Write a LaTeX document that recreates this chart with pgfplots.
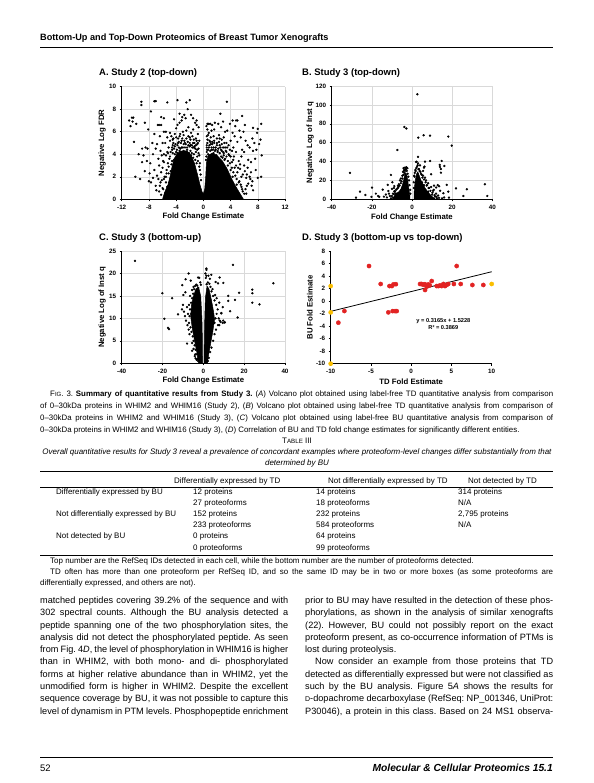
\documentclass[border=0pt]{standalone}
\usepackage{fontspec}
\setmainfont{Liberation Sans}
\usepackage{pgfplots}
\pgfplotsset{compat=1.18}
\definecolor{gridc}{RGB}{217,217,217}
\definecolor{dred}{RGB}{226,35,35}
\definecolor{dyel}{RGB}{250,190,0}
\newcommand{\fsz}[2]{\fontsize{#1}{#2}\selectfont}
\frenchspacing
\pgfplotsset{
  base/.style={scale only axis, anchor=south west, axis x line=bottom, axis y line=left,
    axis line style={black,line width=0.6bp,-}, tick style={black,line width=0.5bp},
    tick align=outside, major tick length=2bp,
    tick label style={font=\fsz{6.3}{7}\bfseries},
    /pgf/number format/assume math mode=true,
    label style={font=\fsz{7.8}{9}\bfseries},
    xlabel style={at={(axis description cs:0.5,-0.157)},anchor=center}},
  vol/.style={base, grid=major, major grid style={gridc,line width=0.5bp}},
  dots/.style={only marks, mark=*, mark size=0.95bp, black},
  core/.style={fill=black,draw=black,line width=0.5bp},
}
\begin{document}
\begin{tikzpicture}
\path[use as bounding box, fill=white] (0,0) rectangle (594bp,783bp);
\begin{scope}[x=1bp,y=-1bp,yshift=783bp]
% header
\node[anchor=base west,inner sep=0,font=\fsz{9.2}{11}\bfseries] at (40,41) {Bottom-Up and Top-Down Proteomics of Breast Tumor Xenografts};
\draw[line width=0.9bp] (40,47) -- (553,47);
% plot titles
\node[anchor=west,inner sep=0,font=\fsz{9.5}{11}\bfseries] at (99,73) {A. Study 2 (top-down)};
\node[anchor=west,inner sep=0,font=\fsz{9.5}{11}\bfseries] at (302,73) {B. Study 3 (top-down)};
\node[anchor=west,inner sep=0,font=\fsz{9.5}{11}\bfseries] at (99,238) {C. Study 3 (bottom-up)};
\node[anchor=west,inner sep=0,font=\fsz{9.5}{11}\bfseries] at (302,238) {D. Study 3 (bottom-up vs top-down)};
% caption
\begin{scope}[every node/.style={anchor=base west,inner sep=0,font=\fsz{7.9}{9}}]
\node at (50,397) {\hbox to 503bp{F{\fsz{6.1}{7}IG}. 3. \textbf{Summary of quantitative results from Study 3.} (\textit{A}) Volcano plot obtained using label-free TD quantitative analysis from comparison}};
\node at (40,409) {\hbox to 513bp{of 0\textendash30kDa proteins in WHIM2 and WHIM16 (Study 2), (\textit{B}) Volcano plot obtained using label-free TD quantitative analysis from comparison of}};
\node at (40,421) {\hbox to 513bp{0\textendash30kDa proteins in WHIM2 and WHIM16 (Study 3), (\textit{C}) Volcano plot obtained using label-free BU quantitative analysis from comparison of}};
\node at (40,433) {0\textendash30kDa proteins in WHIM2 and WHIM16 (Study 3), (\textit{D}) Correlation of BU and TD fold change estimates for significantly different entities.};
\end{scope}
% table
\node[anchor=base,inner sep=0,font=\fsz{8}{9}] at (297,443.5) {T{\fsz{6.2}{7}ABLE} III};
\node[anchor=base,inner sep=0,font=\fsz{8}{9}\itshape] at (297,455) {Overall quantitative results for Study 3 reveal a prevalence of concordant examples where proteoform-level changes differ substantially from that};
\node[anchor=base,inner sep=0,font=\fsz{8}{9}\itshape] at (297,466) {determined by BU};
\draw[line width=0.8bp] (40,471) -- (553,471);
\draw[line width=0.4bp] (40,487) -- (553,487);
\draw[line width=0.8bp] (40,555.5) -- (553,555.5);
\begin{scope}[every node/.style={anchor=base west,inner sep=0,font=\fsz{8}{9}}]
\node at (174,483.5) {Differentially expressed by TD};
\node at (328,483.5) {Not differentially expressed by TD};
\node at (468,483.5) {Not detected by TD};
\node at (56,494.2) {Differentially expressed by BU};
\node at (193,494.2) {12 proteins};
\node at (316,494.2) {14 proteins};
\node at (458,494.2) {314 proteins};
\node at (193,505.4) {27 proteoforms};
\node at (316,505.4) {18 proteoforms};
\node at (458,505.4) {N/A};
\node at (56,516.6) {Not differentially expressed by BU};
\node at (193,516.6) {152 proteins};
\node at (316,516.6) {232 proteins};
\node at (458,516.6) {2,795 proteins};
\node at (193,527.8) {233 proteoforms};
\node at (316,527.8) {584 proteoforms};
\node at (458,527.8) {N/A};
\node at (56,539) {Not detected by BU};
\node at (193,539) {0 proteins};
\node at (316,539) {64 proteins};
\node at (193,550.2) {0 proteoforms};
\node at (316,550.2) {99 proteoforms};
\node at (50,564) {Top number are the RefSeq IDs detected in each cell, while the bottom number are the number of proteoforms detected.};
\node at (50,575) {\hbox to 503bp{TD often has more than one proteoform per RefSeq ID, and so the same ID may be in two or more boxes (as some proteoforms are}};
\node at (40,585.5) {differentially expressed, and others are not).};
\end{scope}
% body text
\begin{scope}[every node/.style={anchor=base west,inner sep=0,font=\fsz{9.2}{11}}]
\node at (40,603.5) {\hbox to 248bp{matched peptides covering 39.2\% of the sequence and with}};
\node at (40,615.8) {\hbox to 248bp{302 spectral counts. Although the BU analysis detected a}};
\node at (40,628.1) {\hbox to 248bp{peptide spanning one of the two phosphorylation sites, the}};
\node at (40,640.4) {\hbox to 248bp{analysis did not detect the phosphorylated peptide. As seen}};
\node at (40,652.7) {\hbox to 248bp{from Fig. 4\textit{D}, the level of phosphorylation in WHIM16 is higher}};
\node at (40,665.0) {\hbox to 248bp{than in WHIM2, with both mono- and di- phosphorylated}};
\node at (40,677.3) {\hbox to 248bp{forms at higher relative abundance than in WHIM2, yet the}};
\node at (40,689.6) {\hbox to 248bp{unmodified form is higher in WHIM2. Despite the excellent}};
\node at (40,701.9) {\hbox to 248bp{sequence coverage by BU, it was not possible to capture this}};
\node at (40,714.2) {\hbox to 248bp{level of dynamism in PTM levels. Phosphopeptide enrichment}};
\node at (305,603.5) {\hbox to 248bp{prior to BU may have resulted in the detection of these phos-}};
\node at (305,615.8) {\hbox to 248bp{phorylations, as shown in the analysis of similar xenografts}};
\node at (305,628.1) {\hbox to 248bp{(22). However, BU could not possibly report on the exact}};
\node at (305,640.4) {\hbox to 248bp{proteoform present, as co-occurrence information of PTMs is}};
\node at (305,652.7) {lost during proteolysis.};
\node at (315,665.0) {\hbox to 238bp{Now consider an example from those proteins that TD}};
\node at (305,677.3) {\hbox to 248bp{detected as differentially expressed but were not classified as}};
\node at (305,689.6) {\hbox to 248bp{such by the BU analysis. Figure 5\textit{A} shows the results for}};
\node at (305,701.9) {\hbox to 248bp{{\fsz{7}{8}D}-dopachrome decarboxylase (RefSeq: NP\_001346, UniProt:}};
\node at (305,714.2) {\hbox to 248bp{P30046), a protein in this class. Based on 24 MS1 observa-}};
\end{scope}
% footer
\draw[line width=0.8bp] (40,757) -- (553,757);
\node[anchor=base west,inner sep=0,font=\fsz{9.5}{11}] at (40,772) {52};
\node[anchor=base east,inner sep=0,font=\fsz{10.3}{12}\bfseries\itshape] at (553,772) {Molecular \& Cellular Proteomics 15.1};
\end{scope}

% ---------------- A ----------------
\begin{axis}[vol, at={(121.7bp,583.7bp)}, width=163.3bp, height=112.6bp,
  xmin=-12, xmax=12, ymin=0, ymax=10, xtick={-12,-8,-4,0,4,8,12}, ytick={0,2,4,6,8,10},
  xlabel={Fold Change Estimate}, ylabel={Negative Log FDR},
  ylabel style={at={(axis description cs:-0.12,0.5)},anchor=center}]
\addplot[core] coordinates {(-6.0,0) (-5.7,0.6) (-5.2,1.3) (-4.9,2.0) (-4.6,2.9) (-4.3,3.6) (-3.8,4.1) (-3.1,4.3) (-2.4,4.3) (-1.8,3.9) (-1.3,3.2) (-0.9,2.3) (-0.5,1.3) (-0.15,0.6) (0,0.5) (0.2,0.9) (0.35,2.0) (0.45,3.2) (0.7,3.9) (1.3,4.1) (2.0,3.9) (2.8,3.4) (3.5,2.7) (4.1,1.9) (4.7,1.2) (5.3,0.6) (5.9,0)} \closedcycle;
\addplot[dots] table {
x y
-9.1 8.66
-9.1 8.37
-7.2 8.7
-7.0 8.72
-5.3 8.6
-3.8 8.8
-2.5 8.6
-2.0 8.8
-2.3 8.0
-7.7 7.8
3.45 8.66
2.5 7.6
5.7 7.4
-10.9 7.0
-10.5 7.25
-10.3 7.25
-10.4 6.9
-10.7 6.5
-9.85 6.7
-8.6 6.8
-8.1 6.2
-10.2 5.1
8.5 6.7
7.3 6.35
8.0 6.25
8.57 3.9
8.5 2.0
8.0 1.9
7.0 3.3
7.7 2.6
4.3 7.0
4.8 7.0
4.7 6.5
-10.0 2.0
-9.3 1.8
-8.0 1.6
-7.7 1.5
-1.8 7.5
-1.5 7.2
-4.3 7.1
-6.2 7.3
-5.8 7.2
-3.5 7.6
-3.1 7.3
-9.0 4.5
-8.5 4.6
-8.2 4.5
-8.8 3.9
-9.0 3.3
-8.3 3.4
-7.5 5.0
-7.2 5.8
-6.7 6.6
-6.5 6.6
-6.2 6.6
-5.8 6.0
-5.5 6.0
-5.3 5.5
-6.0 5.0
-5.8 4.0
-6.3 4.3
-6.8 4.9
-6.5 3.0
-6.0 2.8
-5.5 2.0
-5.6 0.5
-5.0 0.7
-4.5 1.0
-4.5 1.6
-5.2 3.2
-5.0 3.6
-4.8 4.2
-4.5 4.8
-4.5 5.3
-4.2 5.8
-4.0 6.3
-3.8 6.6
-3.5 6.8
-3.2 7.0
-2.8 7.5
-2.6 7.2
-3.0 6.0
-2.5 6.1
-2.0 5.5
-1.5 6.2
-1.2 6.8
-1.0 7.0
-1.0 6.6
-1.5 5.0
-1.2 4.5
-2.8 5.2
-3.3 5.0
-3.6 4.6
-4.2 4.0
-4.0 3.5
-4.8 2.5
-5.0 1.5
-4.7 2.0
-4.2 2.6
-3.9 3.0
-5.3 1.1
-6.0 1.0
-6.3 1.5
-5.8 1.8
-6.8 2.1
-7.2 2.6
-6.6 3.6
-7.4 4.0
-7.0 4.5
-3.3 4.2
-2.9 4.3
-2.4 4.4
-1.9 4.3
-1.4 4.0
-0.9 3.8
-0.7 4.5
-0.6 5.2
-0.8 5.8
-2.2 4.8
-2.6 4.9
-3.7 5.4
-4.1 4.9
-3.4 5.8
-2.2 6.4
-1.8 5.9
-0.7 6.4
-5.1 4.6
-5.6 5.0
-4.6 3.4
-5.4 2.6
-5.9 3.4
-4.9 5.9
-6.4 5.6
-7.8 3.2
-3.9 2.2
-4.3 1.2
-4.9 0.3
-4.0 0.4
-6.5 0.7
-7.0 1.2
-8.6 2.5
-9.5 4.0
-1.1 5.4
-0.5 3.2
-5.5 3.9
-5.2 4.1
-4.9 3.8
-4.6 4.4
-4.3 4.5
-4.0 4.2
-3.8 4.8
-3.5 4.3
-3.2 4.6
-3.0 4.0
-2.7 4.6
-2.5 4.2
-2.3 5.1
-2.1 4.1
-1.9 4.8
-1.7 4.1
-1.6 4.6
-1.3 4.7
-1.1 4.2
-0.9 4.9
-0.8 3.4
-0.6 3.9
-0.5 2.6
-0.4 2.2
-0.35 1.7
-0.6 2.9
-1.0 3.2
-1.2 3.5
-1.5 3.7
-1.8 3.9
-2.2 4.0
-3.9 3.7
-4.3 3.5
-4.7 3.1
-5.1 2.9
-5.4 2.3
-5.7 2.0
-6.1 1.7
-6.4 1.2
-6.2 0.4
-5.9 0.9
-5.5 1.5
-5.1 2.3
-3.6 5.1
-3.1 5.4
-2.9 4.9
-2.0 5.0
-1.4 5.3
-4.4 5.0
-5.3 4.2
-5.8 3.3
-6.2 2.4
-6.6 1.8
-6.9 0.8
-7.4 1.9
-7.9 2.3
-6.1 3.9
-4.9 5.2
-4.7 5.6
-4.6 4.6
-4.4 5.4
-4.2 4.7
-4.0 5.5
-3.9 4.4
-3.7 5.0
-3.5 5.6
-3.4 4.5
-3.2 5.2
-3.0 4.6
-2.9 5.7
-2.7 5.0
-2.5 5.4
-2.4 4.6
-2.2 5.6
-2.0 4.7
-1.9 5.3
-1.7 4.8
-1.6 5.6
-1.4 4.6
-1.3 5.0
-1.1 4.8
-1.0 5.2
-0.9 4.4
-0.8 5.0
-0.7 4.1
-3.8 4.1
-3.1 4.1
-2.6 4.0
-4.5 4.1
0.8 6.7
1.0 6.7
1.3 6.6
1.2 6.1
0.7 5.7
0.9 5.2
1.5 5.6
2.0 5.4
2.3 5.7
2.7 5.3
3.0 5.5
3.4 5.0
3.7 4.8
4.0 5.2
4.3 5.9
4.6 5.6
5.0 5.1
5.5 5.5
5.9 6.0
6.2 5.2
6.5 4.8
6.8 4.6
7.3 4.3
7.8 4.4
7.5 5.0
7.2 5.4
6.0 4.2
5.6 3.8
5.2 3.4
4.8 4.2
4.5 3.8
4.2 3.3
4.6 2.8
5.0 2.4
5.4 2.7
5.8 2.2
6.3 1.9
6.9 1.8
6.5 2.8
6.0 3.0
5.3 1.6
4.9 1.3
5.6 1.1
6.2 0.9
5.8 0.7
5.2 0.5
4.7 0.8
6.6 1.4
7.1 1.2
3.8 3.9
3.3 4.3
2.9 4.6
2.4 4.8
1.8 4.6
1.4 4.4
3.5 6.1
2.6 6.4
0.6 6.2
1.7 6.8
2.9 6.9
0.4 3.5
0.5 4.2
0.5 4.8
0.6 5.3
1.1 4.9
2.1 4.2
2.6 3.8
3.1 3.5
3.6 3.0
4.0 2.6
4.3 2.0
4.1 1.4
4.5 0.5
3.9 4.4
4.4 4.6
3.2 6.0
3.9 6.7
5.3 6.1
6.6 3.5
7.0 2.4
7.6 3.6
8.2 4.9
8.4 5.3
7.9 5.9
6.3 0.5
7.3 0.8
5.0 7.0
6.1 6.6
1.6 6.2
2.2 6.7
0.45 3.8
0.55 4.4
0.7 4.0
0.8 4.6
1.0 4.3
1.2 4.6
1.5 4.1
1.7 4.3
1.9 3.9
2.2 4.5
2.4 4.1
2.6 4.4
2.8 3.7
3.0 4.1
3.2 3.6
3.4 3.8
3.6 3.4
3.9 3.2
4.2 2.8
4.4 2.4
4.7 2.1
4.9 1.8
5.2 1.5
5.5 1.3
5.7 0.9
6.0 0.5
6.4 1.2
4.8 3.0
5.1 2.8
4.4 3.5
4.0 3.8
3.5 4.6
3.1 5.0
2.7 4.9
2.0 5.0
1.6 5.2
1.1 5.5
0.8 5.9
0.5 5.6
0.45 6.5
0.6 6.7
5.6 2.0
6.1 2.5
6.4 2.2
6.8 2.0
7.2 1.6
5.4 3.1
5.7 4.4
4.2 4.3
2.4 5.4
1.3 5.1
0.5 4.6
0.6 5.0
0.7 4.4
0.9 4.8
1.0 5.1
1.2 4.4
1.3 4.9
1.5 4.6
1.6 5.0
1.8 4.4
2.0 4.8
2.1 4.3
2.3 5.1
2.5 4.6
2.7 4.3
2.9 4.2
3.2 4.6
3.4 4.2
3.7 4.0
3.0 3.9
};
\end{axis}

% ---------------- B ----------------
\begin{axis}[vol, at={(331.7bp,583.7bp)}, width=160.6bp, height=113.3bp,
  xmin=-40, xmax=40, ymin=0, ymax=120, xtick={-40,-20,0,20,40}, ytick={0,20,40,60,80,100,120},
  xlabel={Fold Change Estimate}, ylabel={Negative Log of Inst q},
  ylabel style={at={(axis description cs:-0.135,0.5)},anchor=center}]
\addplot[core] coordinates {(-9.5,0) (-9,3) (-8,6) (-6.5,8) (-5.5,11) (-4.8,15) (-4.2,20) (-3.7,25) (-3.1,28) (-2.5,25) (-2.0,18) (-1.5,10) (-1.1,4) (-1.0,0)} \closedcycle;
\addplot[core] coordinates {(1.0,0) (1.1,8) (1.4,16) (1.8,22) (2.3,27) (2.9,29) (3.6,25) (4.5,20) (5.5,16) (6.5,12) (7.5,9) (9,5) (10.5,2) (11.5,0)} \closedcycle;
\addplot[dots] table {
x y
2.66 111.2
-3.8 76.6
-2.8 75
3.15 65.3
5.8 67.8
9.0 67.4
18.1 66.4
19.8 56.8
-7.3 52.2
-30.9 27.9
-27.9 1.8
-25.9 8.1
-23.2 4.6
-20.2 2.5
-19.9 12.4
-16.9 3.5
-16.3 2.5
-14.6 10.2
-14.0 2.8
-12.1 15.2
-11.8 8.8
-9.8 18.0
-10.5 25.8
-8.5 8
-8 6
-9 5.5
-7.5 3
2.3 39.9
6.0 33.5
6.2 34.6
6.5 39.9
9.0 40.6
9.5 26.5
14.8 40.6
13.8 36.4
13.9 34.3
14.4 32.1
14.4 28.2
16.1 35.3
17.3 15.2
18.1 8.1
15.6 6.4
13 4
12 12.5
11 14.5
13.5 13.8
12.8 15
10.5 9
21.9 11.6
25.6 3.5
27.3 10.6
36.3 15.9
37.5 3.5
18.4 1.8
8.1 8.1
7.3 14.5
5.5 25
4.8 26
7 20
8.5 12
10 5
11.5 3
-13 5
-11 3.5
-10 11
-8.8 14
-6 20
-5.5 22
-4.5 29
-4 31
-3.5 33.5
-3 32
-2.2 27
-4.8 25
-6.5 16
-7 12
-9.5 1.5
-18 6
3.5 32
2.8 36
1.8 30
1.2 24
4.2 29
5 18
6 15
3 45
8 4
12.5 1
14 9
-10.5 1
-10 3.5
-9.5 6
-8.8 8.5
-8 10
-7.5 11
-6.8 13
-6.2 14.5
-5.6 17
-5.2 19
-4.8 22
-4.2 26
-3.8 28
-3.5 30
-3.3 31.5
-2.6 30
-2.3 33
-2.8 34
-4.2 33
-1.8 24
-1.5 20
-1.2 15
-0.9 10
-0.8 6
-11.5 6
-12.5 2
-7 14.5
-9 12
0.9 12
0.9 18
1.1 25
1.4 28
1.7 31
2.1 33
2.5 34.5
3.2 32
3.8 30
4.5 27
5.2 23
6 21
6.8 18
7.5 15
8.3 12
9.2 9
10.2 7
11.2 4.5
12.2 2.5
13.5 1.5
12 6
10.8 10
9.5 13
8 17
6.5 23
4 36
5.5 30
3 38
2 39.5
16 2
15 1
11 0.8
};
\end{axis}

% ---------------- C ----------------
\begin{axis}[vol, at={(121.7bp,419.7bp)}, width=163.3bp, height=112.3bp,
  xmin=-40, xmax=40, ymin=0, ymax=25, xtick={-40,-20,0,20,40}, ytick={0,5,10,15,20,25},
  xlabel={Fold Change Estimate}, ylabel={Negative Log of Inst q},
  ylabel style={at={(axis description cs:-0.12,0.5)},anchor=center}]
\addplot[core] coordinates {(-2.3,0) (-3.2,2.5) (-4.3,5) (-5.5,8) (-6.2,10.5) (-5.8,13) (-4.8,15) (-3.6,16.6) (-2.3,16.9) (-1.3,15) (-0.7,10) (-0.45,5) (-0.4,0)} \closedcycle;
\addplot[core] coordinates {(0.4,0) (0.45,5) (0.7,10) (1.0,14.5) (1.8,17.2) (2.8,16.5) (4.0,14) (5.0,11.5) (5.5,9.8) (4.6,7) (3.6,4.5) (2.6,2) (2.0,0)} \closedcycle;
\addplot[dots] table {
x y
-33.5 22.8
14.5 21.9
34.3 17.8
24 16.4
24 15.6
24 13.5
27.5 13.1
17.5 15.7
15.5 14.1
12.2 15
12.2 13.9
13.1 11.6
16.8 10.2
-20.1 15.6
-15.3 14.5
-19.1 9.9
-17.3 7.9
-16.8 7.6
-12.4 10.9
-7.2 20
-8.7 18.7
-10.3 17.4
-6.2 18.4
-2.6 19.1
1.5 20.8
1.5 21.1
3.9 19.7
6.0 18.1
8.0 19.1
9.8 17.9
7.2 17.8
-8 4.4
-5.5 2.8
-4.2 1.6
-3.8 1.1
8.8 11.1
9.7 9.5
10.5 9.1
7.8 8.5
-7 9
-6.8 10.5
-6.5 12
-6.3 8
-6 13.5
-5.5 14.5
-5 15.5
-4.5 16.5
-4 17.2
-3.5 17.5
-3 17.3
-2.5 16.8
-5.8 7
-5.2 6
-4.8 5
-4.3 4
-3.8 3
-3.2 2
-2.8 1
-7.5 11
-8.5 9.5
-9 10.5
-9.5 11.5
-8 12.5
-7 13
-6.5 15
-10 13
-10.5 12
-9.8 15.2
-8.8 15.8
-5.5 16.3
-4.8 17
-7.8 8.5
-6.8 6.5
-5.5 4.5
-4.8 3.2
-4 2
-3.3 0.8
-2.6 0.5
5.5 9
6 10
6.5 11
7 12
6.3 13
5.5 14
4.8 15
4 16
3.5 17
3 17.7
2.2 18
1.6 17.6
7.5 10
8 9.5
8.5 9.2
9.5 9
10.5 9.1
7.2 8.5
6.2 7.5
5.5 6.5
4.8 5
4 3.5
3.3 2.5
2.7 1.2
2.2 0.5
8.8 11.2
9.5 12.5
5.8 15.2
4.5 16.5
3.2 18.8
2.5 19.5
6.5 14.5
7.8 13.5
-1.5 18
-2 19
1.2 19
1 20
1.5 19.5
-1.2 17.5
-6 11
-7.2 7.5
};
\end{axis}

% ---------------- D ----------------
\begin{axis}[base, at={(330.7bp,419.3bp)}, width=161bp, height=112.7bp, clip=false,
  xmin=-10, xmax=10, ymin=-10, ymax=8, xtick={-10,-5,0,5,10}, ytick={-10,-8,-6,-4,-2,0,2,4,6,8},
  xlabel={TD Fold Estimate}, ylabel={BU Fold Estimate},
  ylabel style={at={(axis description cs:-0.129,0.5)},anchor=center}]
\addplot[black,line width=0.8bp] coordinates {(-10,-1.642) (10,4.688)};
\addplot[only marks, mark=*, mark size=2.1bp, color=dred] table {
x y
-5.24 5.6
-3.79 2.73
-9.05 -3.45
-8.3 -1.59
-2.84 -1.8
-2.3 -1.6
-2.0 -1.6
-1.8 -1.6
-2.7 2.4
-2.4 2.4
-2.2 2.67
-1.9 2.7
1.1 2.73
1.3 2.73
1.5 2.6
1.7 2.7
1.72 1.77
1.93 2.3
2.13 2.67
2.3 2.5
2.55 3.2
3.17 2.4
3.4 2.4
3.58 2.5
3.79 2.4
4.0 2.73
4.2 2.4
4.4 2.57
4.6 2.73
5.3 2.73
5.65 5.6
6.15 2.73
7.6 2.57
8.96 2.57
};
\addplot[only marks, mark=*, mark size=2.1bp, color=dyel] table {
x y
-10 2.4
-10 -1.8
-10 -10
10 2.73
};
\node[font=\fsz{5.7}{6.8}\bfseries, align=center] at (axis cs:4,-3.7) {y = 0.3165x + 1.5228\\R² = 0.3869};
\end{axis}
\end{tikzpicture}
\end{document}
